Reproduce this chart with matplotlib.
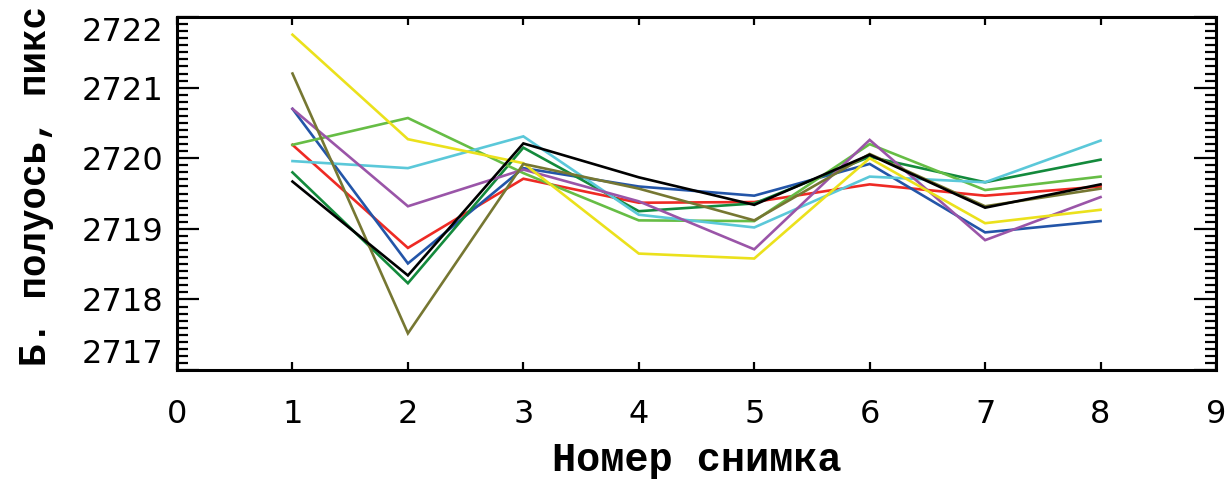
import numpy as np
import matplotlib
matplotlib.use("Agg")
import matplotlib.pyplot as plt
from matplotlib.ticker import MultipleLocator

# frame numbers
frames = [1, 2, 3, 4, 5, 6, 7, 8]

# semi-minor axis per series (pixels)
red = [2720.19, 2718.73, 2719.71, 2719.37, 2719.38, 2719.63, 2719.47, 2719.60]
blue = [2720.70, 2718.51, 2719.86, 2719.60, 2719.47, 2719.92, 2718.95, 2719.11]
dkgreen = [2719.80, 2718.23, 2720.15, 2719.25, 2719.36, 2720.02, 2719.66, 2719.98]
ltgreen = [2720.19, 2720.57, 2719.79, 2719.12, 2719.11, 2720.20, 2719.55, 2719.74]
cyan = [2719.96, 2719.86, 2720.31, 2719.20, 2719.02, 2719.74, 2719.66, 2720.25]
purple = [2720.70, 2719.32, 2719.84, 2719.39, 2718.71, 2720.26, 2718.84, 2719.45]
yellow = [2721.75, 2720.27, 2719.93, 2718.65, 2718.58, 2720.00, 2719.08, 2719.27]
olive = [2721.20, 2717.52, 2719.92, 2719.57, 2719.12, 2720.06, 2719.32, 2719.57]
black = [2719.67, 2718.34, 2720.21, 2719.73, 2719.34, 2720.05, 2719.30, 2719.63]

x_ticks = [0, 1, 2, 3, 4, 5, 6, 7, 8, 9]
y_ticks = [2717, 2718, 2719, 2720, 2721, 2722]

series = [
    (red, "#ee2a24"),
    (blue, "#2355a8"),
    (dkgreen, "#138a3c"),
    (ltgreen, "#66bd45"),
    (cyan, "#5bc8d9"),
    (purple, "#9a55a8"),
    (yellow, "#ebe11c"),
    (olive, "#767732"),
    (black, "#000000"),
]

fig = plt.figure(figsize=(12.32, 4.8), dpi=100)
ax = fig.add_axes([0.1437, 0.229, 0.8433, 0.7355])

for vals, col in series:
    ax.plot(frames, vals, color=col, lw=1.9, solid_joinstyle="miter")

ax.set_xlim(0, 9)
ax.set_ylim(2717, 2722)
ax.set_xticks(x_ticks)
ax.set_yticks(y_ticks)
ax.yaxis.set_minor_locator(MultipleLocator(0.1))

for s in ax.spines.values():
    s.set_linewidth(2.2)

ax.tick_params(axis="x", which="major", direction="in", top=True, length=6,
               width=1.6, pad=21, labelsize=23)
ax.tick_params(axis="y", which="major", direction="in", right=True, length=16,
               width=1.6, pad=10, labelsize=23)
ax.tick_params(axis="y", which="minor", direction="in", right=True, length=8,
               width=1.6)
for lab in ax.get_xticklabels() + ax.get_yticklabels():
    lab.set_fontfamily("DejaVu Sans")

# end labels sit inside the axis range, as in the original
yt = ax.yaxis.get_major_ticks()
yt[0].label1.set_va("bottom")
yt[-1].label1.set_va("top")

ax.set_xlabel("Номер снимка", family="Liberation Mono", fontsize=29,
              fontweight="bold", labelpad=8)
ax.set_ylabel("Б. полуось, пикс", family="Liberation Mono", fontsize=27,
              fontweight="bold", labelpad=22)
ax.yaxis.set_label_coords(-0.118, 0.52)

fig.savefig("out.png", dpi=100)
